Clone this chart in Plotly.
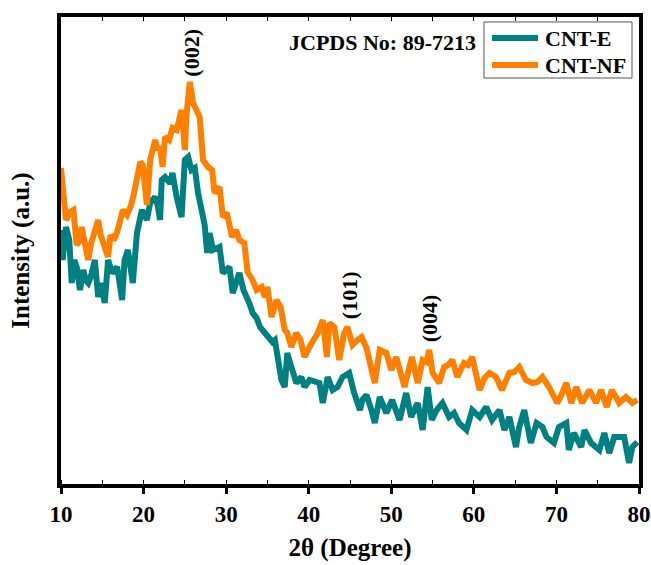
import plotly.graph_objects as go

# 2θ (degrees) and intensity (a.u., arbitrary)
nf_x = [10.0, 10.4, 10.6, 11.1, 11.5, 11.9, 12.3, 12.5, 13.0, 13.3, 13.6, 14.0, 14.5, 14.8, 15.3, 15.7,
        16.0, 16.4, 16.8, 17.1, 17.5, 18.0, 18.5, 18.8, 19.2, 19.6, 19.9, 20.2, 20.4, 20.8, 21.0, 21.4,
        21.7, 22.0, 22.3, 22.6, 23.1, 23.5, 24.0, 24.6, 25.0, 25.2, 25.6, 26.0, 26.4, 26.8, 27.2, 27.8,
        28.3, 28.6, 29.2, 29.6, 30.1, 30.7, 31.2, 31.6, 32.2, 32.6, 33.2, 33.7, 34.3, 34.7, 35.0, 35.5,
        36.1, 36.6, 37.1, 37.4, 37.9, 38.5, 39.0, 39.5, 40.1, 40.6, 41.1, 41.7, 42.2, 42.5, 43.1, 43.7,
        44.3, 44.7, 45.3, 45.9, 46.4, 47.0, 47.6, 48.0, 48.6, 49.4, 50.0, 50.6, 51.1, 51.6, 52.5, 53.2,
        53.8, 54.3, 54.6, 55.0, 55.8, 56.4, 56.9, 57.4, 58.0, 58.8, 59.3, 59.8, 60.7, 61.3, 61.9, 62.7,
        63.4, 64.3, 64.9, 65.5, 66.3, 67.1, 67.7, 68.3, 69.1, 70.1, 70.6, 71.2, 71.8, 72.4, 73.1, 74.0,
        74.8, 75.4, 76.1, 76.7, 77.6, 78.4, 79.2, 79.8]
nf_y = [316, 279, 264, 272, 274, 239, 244, 257, 239, 224, 239, 252, 264, 249, 236, 227,
        249, 244, 252, 262, 274, 269, 279, 289, 304, 322, 319, 284, 279, 324, 331, 344,
        334, 337, 317, 347, 344, 356, 354, 374, 334, 369, 402, 381, 374, 367, 324, 317,
        314, 291, 297, 267, 271, 247, 254, 244, 241, 212, 204, 194, 197, 187, 197, 167,
        184, 177, 154, 151, 137, 151, 144, 127, 137, 144, 151, 164, 127, 161, 157, 124,
        151, 157, 139, 144, 147, 136, 111, 101, 134, 131, 114, 127, 112, 97, 127, 101,
        124, 122, 134, 111, 101, 117, 119, 124, 107, 121, 119, 127, 94, 106, 111, 107,
        94, 111, 112, 117, 104, 101, 102, 107, 97, 81, 89, 101, 81, 97, 81, 94,
        81, 94, 77, 94, 81, 87, 81, 84]

e_x = [10.0, 10.2, 10.6, 11.0, 11.3, 11.6, 11.9, 12.3, 12.7, 13.0, 13.3, 13.6, 14.1, 14.5, 14.8, 15.3,
       15.7, 16.2, 16.8, 17.1, 17.4, 17.7, 18.1, 18.7, 19.2, 19.8, 20.4, 20.8, 21.4, 21.7, 22.0, 22.2,
       22.6, 23.2, 23.5, 24.0, 24.6, 25.0, 25.4, 25.8, 26.2, 26.6, 27.0, 27.4, 27.7, 28.0, 28.4, 28.9,
       29.2, 29.6, 30.1, 30.4, 30.8, 31.3, 31.6, 32.1, 32.5, 32.9, 33.2, 33.7, 34.1, 34.4, 34.9, 35.3,
       35.6, 35.9, 36.2, 36.7, 37.1, 37.4, 37.9, 38.5, 39.1, 39.5, 40.1, 41.0, 41.3, 41.7, 42.3, 42.9,
       43.5, 44.1, 44.7, 44.9, 45.5, 46.2, 46.5, 47.0, 47.6, 48.0, 48.6, 49.4, 50.1, 51.0, 51.8, 52.4,
       53.2, 53.8, 54.4, 54.9, 55.5, 56.2, 57.0, 57.6, 58.2, 59.1, 59.8, 60.7, 61.5, 62.2, 63.1, 63.7,
       64.3, 65.1, 65.5, 66.1, 66.9, 67.6, 68.3, 68.8, 69.7, 70.3, 71.2, 71.5, 72.1, 73.0, 73.4, 74.2,
       75.2, 75.8, 76.4, 77.0, 78.2, 78.8, 79.2, 79.8]
e_y = [254, 224, 257, 244, 201, 224, 217, 194, 214, 204, 201, 207, 224, 187, 201, 181,
       224, 211, 217, 199, 184, 224, 234, 201, 251, 274, 264, 281, 287, 279, 264, 304,
       307, 301, 311, 287, 267, 324, 327, 314, 316, 291, 274, 259, 231, 251, 234, 236,
       237, 211, 216, 217, 191, 204, 211, 194, 187, 179, 171, 166, 157, 154, 151, 146,
       142, 144, 131, 104, 97, 131, 117, 101, 107, 97, 104, 101, 101, 81, 107, 94,
       97, 107, 111, 111, 91, 74, 84, 89, 74, 61, 87, 71, 84, 64, 91, 67,
       81, 54, 97, 64, 74, 81, 67, 71, 61, 54, 74, 67, 77, 64, 74, 54,
       67, 37, 57, 74, 41, 61, 57, 47, 41, 57, 61, 34, 51, 37, 54, 41,
       34, 51, 31, 47, 47, 21, 37, 42]

x_ticks = [10, 20, 30, 40, 50, 60, 70, 80]
series_names = ["CNT-E", "CNT-NF"]
peak_labels = ["(002)", "(101)", "(004)"]
peak_pos = [25.7, 44.9, 54.6]
peak_lbl_y = [431, 189, 166]

FONT = "Liberation Serif"
TEAL = "#008080"
ORANGE = "#FF8000"
colors = [TEAL, ORANGE]

fig = go.Figure()
fig.add_trace(go.Scatter(x=e_x, y=e_y, mode="lines", name=series_names[0],
                         line=dict(color=TEAL, width=6), showlegend=False))
fig.add_trace(go.Scatter(x=nf_x, y=nf_y, mode="lines", name=series_names[1],
                         line=dict(color=ORANGE, width=6), showlegend=False))
# invisible trace for top axis ticks
fig.add_trace(go.Scatter(x=[10, 80], y=[0, 0], xaxis="x2", mode="none",
                         showlegend=False, hoverinfo="skip"))

for lbl, px, py in zip(peak_labels, peak_pos, peak_lbl_y):
    fig.add_annotation(x=px, y=py, text=lbl, textangle=-90, showarrow=False,
                       font=dict(family=FONT, size=22, color="black", weight="bold"))

fig.add_annotation(x=0.556, y=0.946, xref="paper", yref="paper", text="JCPDS No: 89-7213",
                   showarrow=False, xanchor="center", yanchor="middle",
                   font=dict(family=FONT, size=22, color="black", weight="bold"))

# legend box drawn in paper coordinates
fig.add_shape(type="rect", xref="paper", yref="paper", x0=0.7318, x1=0.9879, y0=0.8694, y1=0.9893,
              line=dict(color="#555555", width=1), fillcolor="white", layer="above")
legend_rows_y = [0.955, 0.8972]
for name, col, ly in zip(series_names, colors, legend_rows_y):
    fig.add_shape(type="line", xref="paper", yref="paper", x0=0.7457, x1=0.8253, y0=ly, y1=ly,
                  line=dict(color=col, width=6), layer="above")
    fig.add_annotation(x=0.8339, y=ly, xref="paper", yref="paper", text=name, showarrow=False,
                       xanchor="left", yanchor="middle",
                       font=dict(family=FONT, size=22, color="black", weight="bold"))

fig.update_layout(
    width=651, height=565,
    margin=dict(l=61, r=12, t=17, b=81),
    plot_bgcolor="white", paper_bgcolor="white",
    showlegend=False,
    xaxis=dict(range=[10, 80], tickvals=x_ticks, ticks="outside", ticklen=6, tickwidth=3,
               tickcolor="black", showline=True, linecolor="black", linewidth=4,
               mirror=True, showgrid=False, zeroline=False, automargin=False,
               minor=dict(ticks="inside", dtick=5, ticklen=4, tickwidth=1, tickcolor="black"),
               tickfont=dict(family=FONT, size=23, color="black", weight="bold"),
               title=dict(text="2θ (Degree)", standoff=14,
                          font=dict(family=FONT, size=25, color="black", weight="bold"))),
    xaxis2=dict(range=[10, 80], overlaying="x", side="top", dtick=5, ticks="inside",
                ticklen=4, tickwidth=1, tickcolor="black", showticklabels=False,
                showgrid=False, zeroline=False, showline=False, automargin=False),
    yaxis=dict(range=[0, 467], showticklabels=False, ticks="", showline=True,
               linecolor="black", linewidth=4, mirror=True, showgrid=False, zeroline=False,
               automargin=False,
               title=dict(text="Intensity (a.u.)", standoff=21,
                          font=dict(family=FONT, size=25, color="black", weight="bold"))),
)

fig.write_html("out.html", config={"displayModeBar": False},
               post_script="document.body.style.margin='0px';")
